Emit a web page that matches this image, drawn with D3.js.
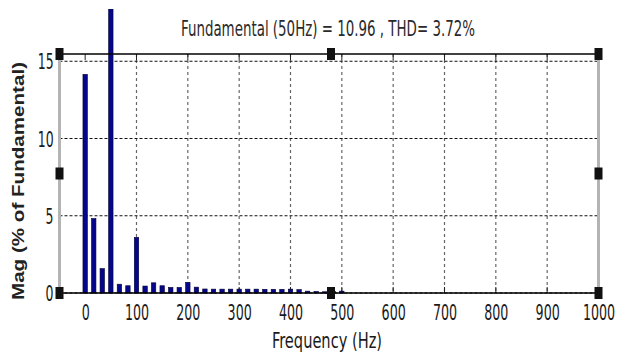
<!DOCTYPE html>
<html>
<head>
<meta charset="utf-8">
<script src="https://cdn.jsdelivr.net/npm/d3@7"></script>
<style>
  body { margin: 0; background: #fff; }
  svg { display: block; }
</style>
</head>
<body>
<svg id="chart"></svg>
<script>
// spectrum data (harmonic freq in Hz, magnitude in % of fundamental)
const freqs = [0, 16.7, 33.3, 50, 66.7, 83.3, 100, 116.7, 133.3, 150, 166.7, 183.3, 200,
  216.7, 233.3, 250, 266.7, 283.3, 300, 316.7, 333.3, 350, 366.7, 383.3, 400, 416.7,
  433.3, 450, 466.7, 483.3, 500];
const mags = [14.15, 4.82, 1.58, 100, 0.57, 0.47, 3.6, 0.45, 0.66, 0.47, 0.36, 0.36, 0.69,
  0.38, 0.26, 0.25, 0.25, 0.25, 0.25, 0.25, 0.25, 0.24, 0.24, 0.24, 0.25, 0.22,
  0.12, 0.1, 0.08, 0.1, 0.12];
const xTicks = [0, 100, 200, 300, 400, 500, 600, 700, 800, 900, 1000];
const yTicks = [0, 5, 10, 15];
const titleText = 'Fundamental (50Hz) = 10.96 , THD= 3.72%';

const W = 626, H = 354;
const pLeft = 59.5, pRight = 598.5, pTop = 54, pBottom = 293;
const narrow = '"Liberation Sans Narrow", "DejaVu Sans Condensed", sans-serif';

const svg = d3.select('#chart').attr('width', W).attr('height', H);

const x = d3.scaleLinear().domain([-50, 1000]).range([pLeft, pRight]);
const y = d3.scaleLinear().domain([0, 15.47]).range([pBottom, pTop]);

// clip so the fundamental bar stops near the image edge like the picture
svg.append('clipPath').attr('id', 'clip')
  .append('rect').attr('x', 0).attr('y', 9).attr('width', W).attr('height', H);

// grid
const grid = svg.append('g');
grid.selectAll('.vg').data(xTicks.slice(1, -1)).join('line')
  .attr('x1', d => x(d)).attr('x2', d => x(d))
  .attr('y1', pTop).attr('y2', pBottom)
  .attr('stroke', '#666').attr('stroke-width', 1.2).attr('stroke-dasharray', '3,3');
grid.selectAll('.hg').data(yTicks).join('line')
  .attr('x1', pLeft).attr('x2', pRight)
  .attr('y1', d => y(d)).attr('y2', d => y(d))
  .attr('stroke', '#111').attr('stroke-width', 1).attr('stroke-dasharray', '3,2');

// inner ticks top/bottom
svg.append('g').selectAll('line').data(xTicks).join('line')
  .attr('x1', d => x(d)).attr('x2', d => x(d))
  .attr('y1', pTop).attr('y2', pTop + 6)
  .attr('stroke', '#222');
svg.append('g').selectAll('line').data(xTicks).join('line')
  .attr('x1', d => x(d)).attr('x2', d => x(d))
  .attr('y1', pBottom).attr('y2', pBottom - 6)
  .attr('stroke', '#222');

// bars
const bw = x(8.6) - x(0);
svg.append('g').attr('clip-path', 'url(#clip)')
  .selectAll('rect').data(freqs).join('rect')
  .attr('x', d => x(d) - bw / 2)
  .attr('width', bw)
  .attr('y', (d, i) => y(mags[i]))
  .attr('height', (d, i) => y(0) - y(mags[i]))
  .attr('fill', '#06068c')
  .attr('stroke', '#000033')
  .attr('stroke-width', 0.6);

// box: gray sides, black top/bottom
svg.append('line').attr('x1', pLeft).attr('x2', pLeft).attr('y1', pTop).attr('y2', pBottom)
  .attr('stroke', '#b4b4b4').attr('stroke-width', 3);
svg.append('line').attr('x1', pRight).attr('x2', pRight).attr('y1', pTop).attr('y2', pBottom)
  .attr('stroke', '#b4b4b4').attr('stroke-width', 3);
svg.append('line').attr('x1', pLeft).attr('x2', pRight).attr('y1', pTop).attr('y2', pTop)
  .attr('stroke', '#000').attr('stroke-width', 1.6);
svg.append('line').attr('x1', pLeft).attr('x2', pRight).attr('y1', pBottom).attr('y2', pBottom)
  .attr('stroke', '#000').attr('stroke-width', 1.6);

// axes labels
const xAxis = svg.append('g').attr('transform', `translate(0,${pBottom})`)
  .call(d3.axisBottom(x).tickValues(xTicks).tickFormat(d3.format('d')).tickSize(0).tickPadding(0));
xAxis.select('.domain').remove();
xAxis.selectAll('text')
  .attr('y', 27).attr('dy', 0)
  .attr('font-family', narrow).attr('font-size', 22).attr('fill', '#1a1a1a')
  .attr('transform', 'scale(0.64,1)');

const yAxis = svg.append('g').attr('transform', `translate(${pLeft},0)`)
  .call(d3.axisLeft(y).tickValues(yTicks).tickSize(0).tickPadding(0));
yAxis.select('.domain').remove();
yAxis.selectAll('text')
  .attr('x', -9).attr('dy', '0.36em')
  .attr('font-family', narrow).attr('font-size', 21).attr('fill', '#1a1a1a')
  .attr('transform', 'scale(0.66,1)');

// selection handles (corners and edge midpoints)
const hx = [pLeft, (pLeft + pRight) / 2 + 2, pRight];
const hy = [pTop, (pTop + pBottom) / 2, pBottom];
const handles = [];
hx.forEach((a, i) => hy.forEach((b, j) => {
  if (!(i === 1 && j === 1)) handles.push([a, b]);
}));
svg.append('g').selectAll('rect').data(handles).join('rect')
  .attr('x', d => d[0] - 4).attr('y', d => d[1] - 6)
  .attr('width', 8).attr('height', 12)
  .attr('fill', '#111');

// title
svg.append('text')
  .attr('x', 328).attr('y', 36)
  .attr('text-anchor', 'middle')
  .attr('font-family', narrow).attr('font-size', 21).attr('fill', '#2a2a2a')
  .attr('textLength', 294).attr('lengthAdjust', 'spacingAndGlyphs')
  .text(titleText);

// axis titles
svg.append('text')
  .attr('x', 327).attr('y', 348)
  .attr('text-anchor', 'middle')
  .attr('font-family', narrow).attr('font-size', 21).attr('fill', '#1a1a1a')
  .attr('textLength', 110).attr('lengthAdjust', 'spacingAndGlyphs')
  .text('Frequency (Hz)');

svg.append('text')
  .attr('transform', 'translate(24,181) rotate(-90)')
  .attr('text-anchor', 'middle')
  .attr('font-family', '"Liberation Sans", Arial, sans-serif')
  .attr('font-weight', 'bold').attr('font-size', 16).attr('fill', '#222')
  .attr('textLength', 238).attr('lengthAdjust', 'spacingAndGlyphs')
  .text('Mag (% of Fundamental)');
</script>
</body>
</html>
